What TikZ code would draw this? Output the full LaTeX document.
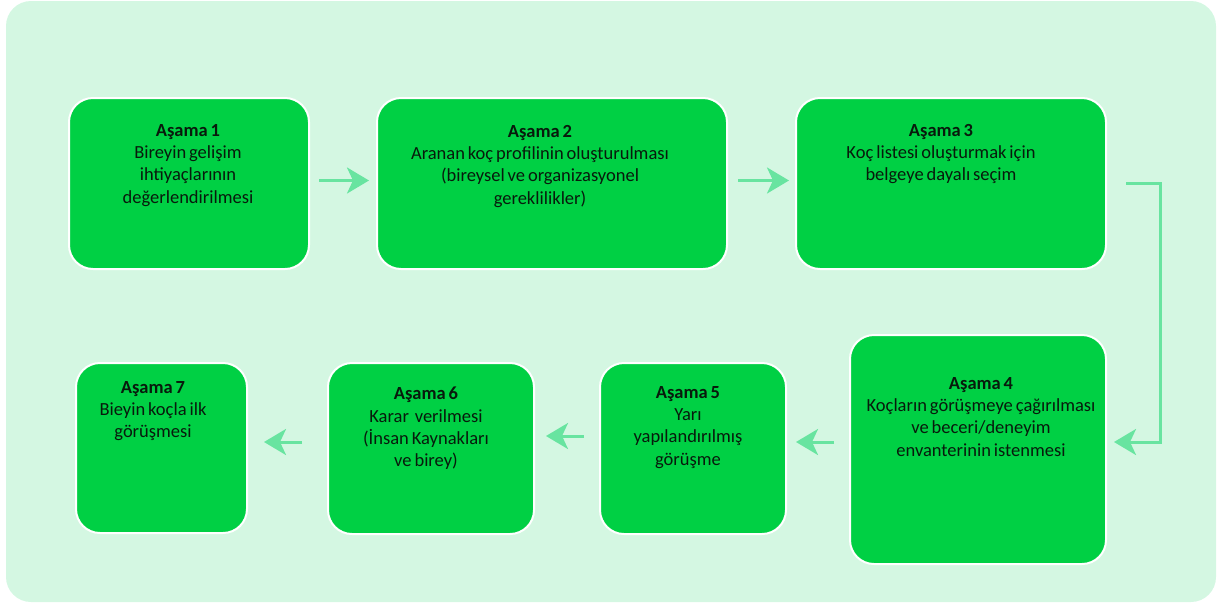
\documentclass[tikz,border=0pt]{standalone}
\usepackage{fontspec}
\setmainfont{Carlito}[WordSpace=0.7]
\usetikzlibrary{arrows.meta}
\definecolor{bgmint}{RGB}{212,247,226}
\definecolor{boxgreen}{RGB}{0,208,68}
\definecolor{arrgreen}{RGB}{104,228,160}
\definecolor{txt}{RGB}{8,26,12}
\begin{document}
\begin{tikzpicture}[x=1pt,y=-1pt,
  stage/.style={draw=white, line width=2pt, fill=boxgreen, rounded corners=24pt, inner sep=0pt, rectangle},
  lbl/.style={anchor=north, align=center, font=\fontsize{18.5}{22.3}\selectfont, text=txt, inner sep=0pt},
  arr/.style={draw=arrgreen, line width=3pt, -{Stealth[length=22pt,width=26pt,inset=6pt]}}]
\useasboundingbox (0,0) rectangle (1228,603);
\fill[bgmint, rounded corners=25pt] (6,1) rectangle (1216,602);
% boxes
\node[stage, minimum width=240pt, minimum height=171pt] (b1) at (189,183.5) {};
\node[stage, minimum width=350pt, minimum height=171pt] (b2) at (552,183.5) {};
\node[stage, minimum width=310pt, minimum height=171pt] (b3) at (951,183.5) {};
\node[stage, minimum width=256pt, minimum height=229pt] (b4) at (978,449.5) {};
\node[stage, minimum width=186pt, minimum height=171pt] (b5) at (693,448.5) {};
\node[stage, minimum width=206pt, minimum height=171pt] (b6) at (431,448.5) {};
\node[stage, minimum width=171pt, minimum height=170pt] (b7) at (161.5,448) {};
% texts
\node[lbl] (t1) at (188,124) {\textbf{Aşama 1}\\Bireyin gelişim\\ihtiyaçlarının\\değerlendirilmesi};
\node[lbl] (t2) at (540,125) {\textbf{Aşama 2}\\Aranan koç profilinin oluşturulması\\(bireysel ve organizasyonel\\gereklilikler)};
\node[lbl] (t3) at (941,124) {\textbf{Aşama 3}\\Koç listesi oluşturmak için\\belgeye dayalı seçim};
\node[lbl] (t4) at (981,377) {\textbf{Aşama 4}\\Koçların görüşmeye çağırılması\\ve beceri/deneyim\\envanterinin istenmesi};
\node[lbl] (t5) at (688,386) {\textbf{Aşama 5}\\Yarı\\yapılandırılmış\\görüşme};
\node[lbl] (t6) at (426,387) {\textbf{Aşama 6}\\Karar~ verilmesi\\(İnsan Kaynakları\\ve birey)};
\node[lbl] (t7) at (153,381) {\textbf{Aşama 7}\\Bieyin koçla ilk\\görüşmesi};
% connectors
\draw[arr] ([shift={(9,-3)}]b1.east) -- ([shift={(-7,-3)}]b2.west);
\draw[arr] ([shift={(10,-3)}]b2.east) -- ([shift={(-6,-3)}]b3.west);
\draw[arr] ([shift={(19,-0.5)}]b3.east) -- ++(34,0) coordinate (c1) |- ([shift={(7,-7.5)}]b4.east);
\draw[arr] ([shift={(-15,-7.5)}]b4.west) -- ([shift={(9,-6.5)}]b5.east);
\draw[arr] ([shift={(-15,-12.5)}]b5.west) -- ([shift={(11,-12.5)}]b6.east);
\draw[arr] ([shift={(-25,-6.5)}]b6.west) -- ([shift={(16,-6)}]b7.east);
\end{tikzpicture}
\end{document}
